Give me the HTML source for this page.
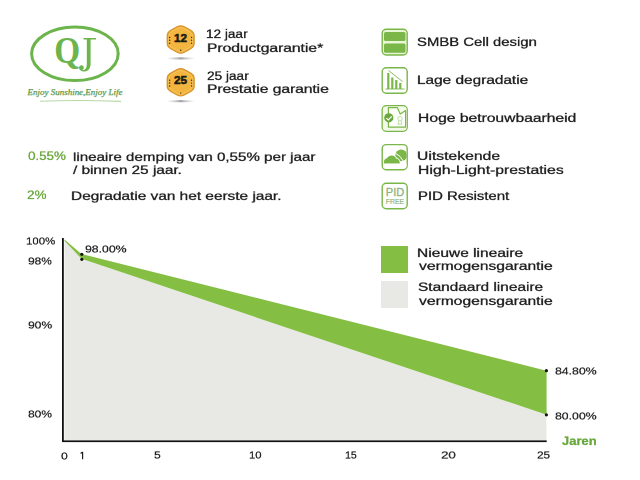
<!DOCTYPE html>
<html><head><meta charset="utf-8">
<style>
html,body{margin:0;padding:0;background:#fff;width:640px;height:480px;overflow:hidden;position:relative}
.t{position:absolute;white-space:pre;line-height:40px;font-family:"Liberation Sans",sans-serif;transform-origin:0 0;-webkit-text-stroke:0.3px currentColor;will-change:transform}
svg{position:absolute;left:0;top:0}
</style></head><body>
<svg width="640" height="480" viewBox="0 0 640 480">
  <!-- logo -->
  <ellipse cx="74.9" cy="53.8" rx="43.3" ry="26.8" fill="none" stroke="#6cb44c" stroke-width="3"/>
  <text x="0" y="0" font-family="Liberation Serif" font-weight="700" font-size="37" fill="#6cb44c" transform="translate(54.3 62.5) scale(0.9 1)">Q</text>
  <path d="M83.5 38 L96 38 L96 39.6 L83.5 39.6 Z M86.8 39 L90.6 39 L90.6 64 C90.6 69, 87.5 71.5, 84 71.5 C81 71.5, 79 69.8, 79 67.8 C79 66.3, 80.2 65.3, 81.5 65.3 C83 65.3, 83.8 66.5, 83.8 67.5 C83.8 68.7, 83 69.5, 82.5 70 C84.5 70.3, 86.8 69, 86.8 64 Z" fill="#6cb44c"/>
  <text x="27.5" y="94.6" font-family="Liberation Serif" font-style="italic" font-size="9" fill="#5f9a4a" stroke="#5f9a4a" stroke-width="0.25" textLength="95" lengthAdjust="spacingAndGlyphs">Enjoy Sunshine,Enjoy Life</text>
  <path d="M40 101.2 Q80 99.6 121 101.4" stroke="#b9d8a6" stroke-width="1.1" fill="none"/>

  <!-- badges -->
  <defs>
    <linearGradient id="shd" x1="0" x2="1" y1="0" y2="0">
      <stop offset="0" stop-color="#bbb" stop-opacity="0"/><stop offset="0.5" stop-color="#9a9a9a"/><stop offset="1" stop-color="#bbb" stop-opacity="0"/>
    </linearGradient>
  </defs>
  <g id="b1" transform="translate(0 0)">
    <ellipse cx="180.8" cy="58.4" rx="15" ry="1.1" fill="url(#shd)" opacity="0.9"/>
    <g transform="translate(180.7 39.5) scale(1.02 0.96) translate(-180.6 -39.8)">
    <path d="M177.14 26.60 Q180.60 24.60 184.06 26.60 L190.30 30.20 Q193.76 32.20 193.76 36.20 L193.76 43.40 Q193.76 47.40 190.30 49.40 L184.06 53.00 Q180.60 55.00 177.14 53.00 L170.90 49.40 Q167.44 47.40 167.44 43.40 L167.44 36.20 Q167.44 32.20 170.90 30.20 Z" fill="#f0b23a" stroke="#d8932a" stroke-width="1.3"/>
    <path d="M177.57 28.15 Q180.60 26.40 183.63 28.15 L189.17 31.35 Q192.20 33.10 192.20 36.60 L192.20 43.00 Q192.20 46.50 189.17 48.25 L183.63 51.45 Q180.60 53.20 177.57 51.45 L172.03 48.25 Q169.00 46.50 169.00 43.00 L169.00 36.60 Q169.00 33.10 172.03 31.35 Z" fill="#f2b640" stroke="#f9cd6c" stroke-width="0.7"/>
    </g>
    <g fill="#3a2a10">
      <circle cx="169.6" cy="37.4" r="0.75"/><circle cx="169.6" cy="40.3" r="0.75"/><circle cx="169.6" cy="43.2" r="0.75"/>
      <circle cx="191.6" cy="37.4" r="0.7"/><circle cx="191.6" cy="40.3" r="0.7"/><circle cx="191.6" cy="43.2" r="0.7"/>
      <circle cx="180.7" cy="50.3" r="0.7"/>
    </g>
    <text x="174" y="41.6" font-family="Liberation Sans" font-weight="700" font-size="11.8" fill="#1e1a12" stroke="#1e1a12" stroke-width="0.6" textLength="13" lengthAdjust="spacingAndGlyphs">12</text>
  </g>
  <!--
    <linearGradient id="shd" x1="0" x2="1" y1="0" y2="0">
      <stop offset="0" stop-color="#bbb" stop-opacity="0"/><stop offset="0.5" stop-color="#9a9a9a"/><stop offset="1" stop-color="#bbb" stop-opacity="0"/>
    </linearGradient>
  -->
  <g id="b2" transform="translate(0 42.8)">
    <ellipse cx="180.8" cy="58.4" rx="15" ry="1.1" fill="url(#shd)" opacity="0.9"/>
    <g transform="translate(180.7 39.5) scale(1.02 0.96) translate(-180.6 -39.8)">
    <path d="M177.14 26.60 Q180.60 24.60 184.06 26.60 L190.30 30.20 Q193.76 32.20 193.76 36.20 L193.76 43.40 Q193.76 47.40 190.30 49.40 L184.06 53.00 Q180.60 55.00 177.14 53.00 L170.90 49.40 Q167.44 47.40 167.44 43.40 L167.44 36.20 Q167.44 32.20 170.90 30.20 Z" fill="#f0b23a" stroke="#d8932a" stroke-width="1.3"/>
    <path d="M177.57 28.15 Q180.60 26.40 183.63 28.15 L189.17 31.35 Q192.20 33.10 192.20 36.60 L192.20 43.00 Q192.20 46.50 189.17 48.25 L183.63 51.45 Q180.60 53.20 177.57 51.45 L172.03 48.25 Q169.00 46.50 169.00 43.00 L169.00 36.60 Q169.00 33.10 172.03 31.35 Z" fill="#f2b640" stroke="#f9cd6c" stroke-width="0.7"/>
    </g>
    <g fill="#3a2a10">
      <circle cx="169.6" cy="37.4" r="0.75"/><circle cx="169.6" cy="40.3" r="0.75"/><circle cx="169.6" cy="43.2" r="0.75"/>
      <circle cx="191.6" cy="37.4" r="0.7"/><circle cx="191.6" cy="40.3" r="0.7"/><circle cx="191.6" cy="43.2" r="0.7"/>
      <circle cx="180.7" cy="50.3" r="0.7"/>
    </g>
    <text x="174" y="41.6" font-family="Liberation Sans" font-weight="700" font-size="11.8" fill="#1e1a12" stroke="#1e1a12" stroke-width="0.6" textLength="13" lengthAdjust="spacingAndGlyphs">25</text>
  </g>

  <!-- right icons -->
  <g fill="none" stroke="#7ab648" stroke-width="1.4">
    <rect x="382.2" y="29.2" width="25" height="25.8" rx="4" fill="#e9f6d6"/>
    <rect x="382.2" y="67.7" width="25" height="25.5" rx="4"/>
    <rect x="382.2" y="105.7" width="25" height="25.5" rx="4"/>
    <rect x="382.2" y="144.6" width="25" height="25.2" rx="4"/>
    <rect x="382.2" y="183.2" width="25" height="25.5" rx="4"/>
  </g>
  <!-- icon1 inner -->
  <rect x="384" y="32" width="21.5" height="9" rx="1.5" fill="#7ab648"/>
  <rect x="384" y="43.5" width="21.5" height="9.3" rx="1.5" fill="#7ab648"/>
  <!-- icon2 bars -->
  <g fill="#7ab648">
    <rect x="387.2" y="73" width="2.2" height="16"/>
    <rect x="391.2" y="77.5" width="2.2" height="11.5"/>
    <rect x="395.2" y="80" width="2.2" height="9"/>
    <rect x="399.2" y="83" width="2.2" height="6"/>
  </g>
  <path d="M385.5 89 L404.5 89 M388.5 70.5 L402.5 81.5" stroke="#7ab648" stroke-width="0.9" fill="none"/>
  <!-- icon3 certificate -->
  <rect x="382.9" y="106.4" width="23.6" height="24.1" rx="3.3" fill="#f3faea"/>
  <path d="M388.4 127.1 L388.4 107.6 L397.2 107.6 L400.3 114 L405.6 110.6 L405.6 127.1 Z" fill="#fdfffa" stroke="#7ab648" stroke-width="1.2" stroke-linejoin="round"/>
  <circle cx="388.8" cy="117.8" r="4.6" fill="#6aa83e"/>
  <path d="M386.4 118.1 L388.3 120 L391.8 116.3" stroke="#fff" stroke-width="1.2" fill="none"/>
  <circle cx="400" cy="118.6" r="2.2" fill="none" stroke="#b3d39a" stroke-width="0.8"/>
  <path d="M398.6 121 L398.2 124.6 L400 123.6 L401.8 124.6 L401.4 121" fill="none" stroke="#b3d39a" stroke-width="0.8"/>
  <!-- icon4 clouds -->
  <defs><clipPath id="c4"><rect x="383" y="145.5" width="23.6" height="23" rx="3"/></clipPath></defs>
  <g clip-path="url(#c4)">
    <circle cx="401.2" cy="155.4" r="5.9" fill="#7ab648"/>
    <circle cx="390" cy="166.5" r="10.8" fill="none" stroke="#fff" stroke-width="1.1"/>
    <circle cx="390" cy="166.5" r="14.2" fill="none" stroke="#fff" stroke-width="1.0"/>
    <path d="M384 163.7 L384 161.2 C384.3 159.6 385.5 158.4 387 158.3 C388 156.4 389.8 155.4 391.8 155.5 C394 155.6 395.6 157 396.3 158.6 C398.2 158.9 399.6 160.4 399.7 162.3 L399.7 163.7 Z" fill="#7ab648" stroke="#fff" stroke-width="1.2" paint-order="stroke"/>
    <rect x="383" y="163.6" width="24" height="6" fill="#fff"/>
  </g>
  <!-- icon5 PID FREE -->
  <text x="0" y="0" font-family="Liberation Sans" font-size="11.6" fill="#8db37a" stroke="#8db37a" stroke-width="0.3" textLength="18.4" lengthAdjust="spacingAndGlyphs" transform="translate(385.8 195.6)">PID</text>
  <text x="0" y="0" font-family="Liberation Sans" font-size="7.8" fill="#8db37a" stroke="#8db37a" stroke-width="0.2" textLength="18.4" lengthAdjust="spacingAndGlyphs" transform="translate(385.8 203.9)">FREE</text>

  <!-- chart -->
  <polygon points="64.5,240.5 81.5,258.8 546.4,414.8 546.4,440.4 64.5,440.4" fill="#e8e8e4"/>
  <polygon points="64.5,239.6 81.5,254 546.6,370.8 546.6,414.8 81.5,258.8 64.5,240.8" fill="#84bf43"/>
  <rect x="62" y="238" width="1.8" height="204" fill="#111"/>
  <rect x="62" y="440.4" width="484.7" height="1.7" fill="#111"/>
  <g fill="#111">
    <circle cx="81.8" cy="254.3" r="1.6"/>
    <circle cx="81.8" cy="259.3" r="1.6"/>
    <circle cx="546.4" cy="370.7" r="1.6"/>
    <circle cx="546.4" cy="414.8" r="1.6"/>
  </g>
  <path d="M82.6 452 L82.6 459.2 M80.6 453.6 L82.6 452.1" stroke="#1e1e1e" stroke-width="1.2" fill="none"/>
  <!-- legend -->
  <rect x="381" y="246" width="27" height="27" fill="#84bf43"/>
  <rect x="381" y="281" width="27" height="27" fill="#e8e8e4"/>
</svg>
<div class="t" style="left:206.44px;top:23.60px;font-size:23.00px;color:#1e1e1e;font-weight:400;-webkit-text-stroke-width:0.60px;transform:scale(0.5915,0.5)">12 jaar</div>
<div class="t" style="left:207.06px;top:37.79px;font-size:23.00px;color:#1e1e1e;font-weight:400;-webkit-text-stroke-width:0.60px;transform:scale(0.6777,0.5)">Productgarantie*</div>
<div class="t" style="left:206.83px;top:66.16px;font-size:23.00px;color:#1e1e1e;font-weight:400;-webkit-text-stroke-width:0.60px;transform:scale(0.5930,0.5)">25 jaar</div>
<div class="t" style="left:207.06px;top:79.45px;font-size:23.00px;color:#1e1e1e;font-weight:400;-webkit-text-stroke-width:0.60px;transform:scale(0.6758,0.5)">Prestatie garantie</div>
<div class="t" style="left:416.90px;top:31.70px;font-size:24.80px;color:#1e1e1e;font-weight:400;-webkit-text-stroke-width:0.60px;transform:scale(0.5995,0.5)">SMBB Cell design</div>
<div class="t" style="left:417.21px;top:70.22px;font-size:24.80px;color:#1e1e1e;font-weight:400;-webkit-text-stroke-width:0.60px;transform:scale(0.6202,0.5)">Lage degradatie</div>
<div class="t" style="left:417.55px;top:107.99px;font-size:24.80px;color:#1e1e1e;font-weight:400;-webkit-text-stroke-width:0.60px;transform:scale(0.6311,0.5)">Hoge betrouwbaarheid</div>
<div class="t" style="left:417.03px;top:146.05px;font-size:24.80px;color:#1e1e1e;font-weight:400;-webkit-text-stroke-width:0.60px;transform:scale(0.6343,0.5)">Uitstekende</div>
<div class="t" style="left:417.62px;top:159.68px;font-size:24.80px;color:#1e1e1e;font-weight:400;-webkit-text-stroke-width:0.60px;transform:scale(0.6370,0.5)">High-Light-prestaties</div>
<div class="t" style="left:417.69px;top:185.85px;font-size:24.80px;color:#1e1e1e;font-weight:400;-webkit-text-stroke-width:0.60px;transform:scale(0.6015,0.5)">PID Resistent</div>
<div class="t" style="left:27.50px;top:146.25px;font-size:23.80px;color:#6aa83e;font-weight:400;-webkit-text-stroke-width:0.60px;transform:scale(0.5615,0.5)">0.55%</div>
<div class="t" style="left:72.61px;top:146.64px;font-size:23.80px;color:#1e1e1e;font-weight:400;-webkit-text-stroke-width:0.60px;transform:scale(0.6364,0.5)">lineaire demping van 0,55% per jaar</div>
<div class="t" style="left:72.59px;top:159.59px;font-size:23.80px;color:#1e1e1e;font-weight:400;-webkit-text-stroke-width:0.60px;transform:scale(0.6424,0.5)">/ binnen 25 jaar.</div>
<div class="t" style="left:26.92px;top:185.49px;font-size:23.80px;color:#6aa83e;font-weight:400;-webkit-text-stroke-width:0.60px;transform:scale(0.5672,0.5)">2%</div>
<div class="t" style="left:71.42px;top:185.51px;font-size:23.80px;color:#1e1e1e;font-weight:400;-webkit-text-stroke-width:0.60px;transform:scale(0.6467,0.5)">Degradatie van het eerste jaar.</div>
<div class="t" style="left:417.40px;top:242.61px;font-size:24.80px;color:#1e1e1e;font-weight:400;-webkit-text-stroke-width:0.60px;transform:scale(0.6259,0.5)">Nieuwe lineaire</div>
<div class="t" style="left:418.58px;top:256.14px;font-size:24.80px;color:#1e1e1e;font-weight:400;-webkit-text-stroke-width:0.60px;transform:scale(0.6295,0.5)">vermogensgarantie</div>
<div class="t" style="left:417.83px;top:277.31px;font-size:24.80px;color:#1e1e1e;font-weight:400;-webkit-text-stroke-width:0.60px;transform:scale(0.6214,0.5)">Standaard lineaire</div>
<div class="t" style="left:418.58px;top:290.64px;font-size:24.80px;color:#1e1e1e;font-weight:400;-webkit-text-stroke-width:0.60px;transform:scale(0.6295,0.5)">vermogensgarantie</div>
<div class="t" style="left:26.23px;top:231.29px;font-size:20.40px;color:#1e1e1e;font-weight:400;-webkit-text-stroke-width:0.44px;transform:scale(0.5602,0.5)">100%</div>
<div class="t" style="left:27.99px;top:251.40px;font-size:20.40px;color:#1e1e1e;font-weight:400;-webkit-text-stroke-width:0.44px;transform:scale(0.5833,0.5)">98%</div>
<div class="t" style="left:27.74px;top:315.41px;font-size:20.40px;color:#1e1e1e;font-weight:400;-webkit-text-stroke-width:0.44px;transform:scale(0.5904,0.5)">90%</div>
<div class="t" style="left:28.09px;top:404.14px;font-size:20.40px;color:#1e1e1e;font-weight:400;-webkit-text-stroke-width:0.44px;transform:scale(0.5862,0.5)">80%</div>
<div class="t" style="left:84.55px;top:238.60px;font-size:20.40px;color:#1e1e1e;font-weight:400;-webkit-text-stroke-width:0.44px;transform:scale(0.5999,0.5)">98.00%</div>
<div class="t" style="left:555.41px;top:360.51px;font-size:20.40px;color:#1e1e1e;font-weight:400;-webkit-text-stroke-width:0.44px;transform:scale(0.6010,0.5)">84.80%</div>
<div class="t" style="left:555.41px;top:405.52px;font-size:20.40px;color:#1e1e1e;font-weight:400;-webkit-text-stroke-width:0.44px;transform:scale(0.6010,0.5)">80.00%</div>
<div class="t" style="left:562.00px;top:431.32px;font-size:24.40px;color:#6aa83e;font-weight:700;-webkit-text-stroke-width:0.60px;transform:scale(0.5312,0.5)">Jaren</div>
<div class="t" style="left:60.64px;top:445.80px;font-size:20.00px;color:#1e1e1e;font-weight:400;-webkit-text-stroke-width:0.44px;transform:scale(0.5983,0.5)">0</div>
<div class="t" style="left:153.82px;top:445.20px;font-size:20.00px;color:#1e1e1e;font-weight:400;-webkit-text-stroke-width:0.44px;transform:scale(0.5997,0.5)">5</div>
<div class="t" style="left:248.95px;top:444.78px;font-size:20.00px;color:#1e1e1e;font-weight:400;-webkit-text-stroke-width:0.44px;transform:scale(0.5613,0.5)">10</div>
<div class="t" style="left:345.03px;top:445.36px;font-size:20.00px;color:#1e1e1e;font-weight:400;-webkit-text-stroke-width:0.44px;transform:scale(0.5328,0.5)">15</div>
<div class="t" style="left:440.56px;top:445.36px;font-size:20.00px;color:#1e1e1e;font-weight:400;-webkit-text-stroke-width:0.44px;transform:scale(0.6675,0.5)">20</div>
<div class="t" style="left:536.91px;top:445.36px;font-size:20.00px;color:#1e1e1e;font-weight:400;-webkit-text-stroke-width:0.44px;transform:scale(0.5899,0.5)">25</div>
</body></html>
